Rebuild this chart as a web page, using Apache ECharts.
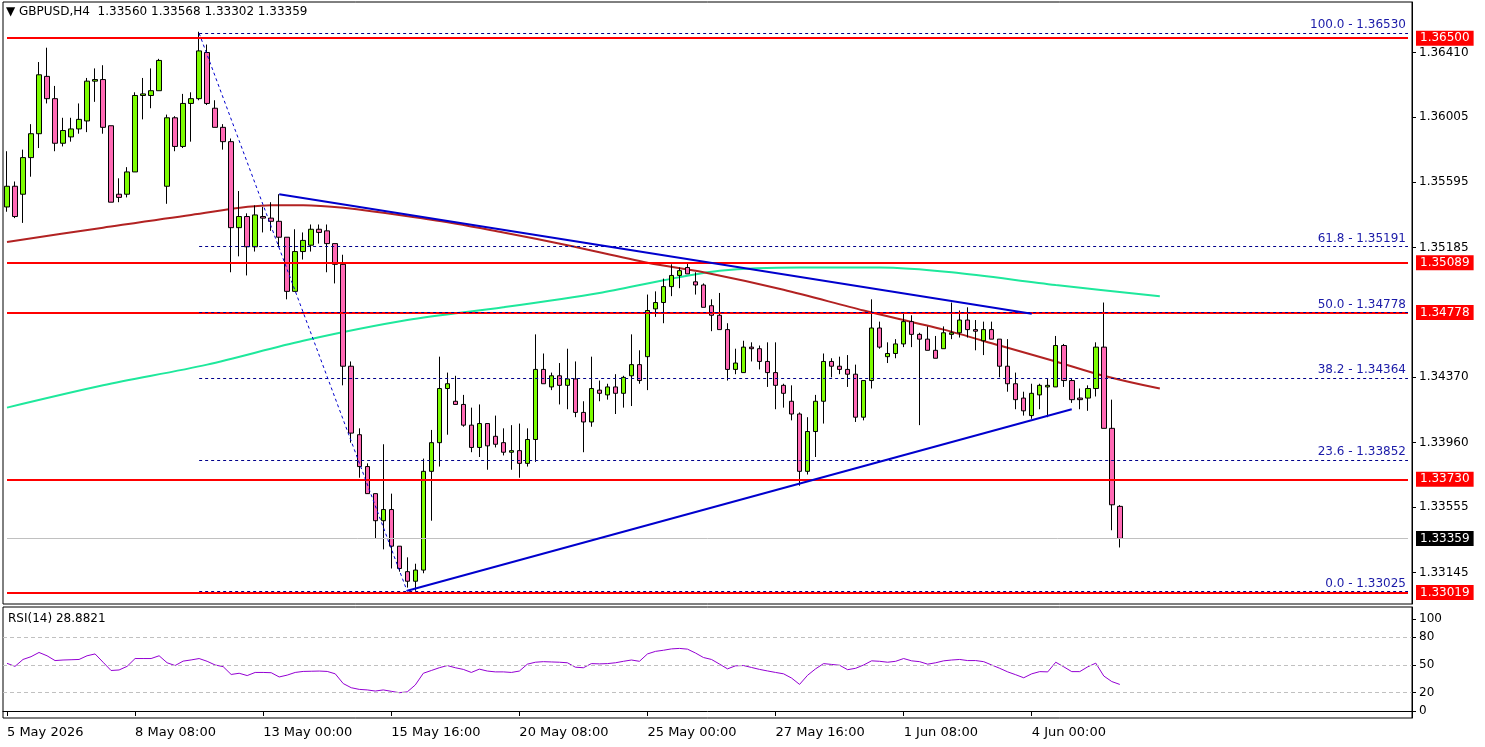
<!DOCTYPE html>
<html>
<head>
<meta charset="utf-8">
<script src="https://cdn.jsdelivr.net/npm/echarts@6/dist/echarts.min.js"></script>
<style>
html, body { margin: 0; padding: 0; background: #fff; }
#chart { width: 1485px; height: 747px; }
</style>
</head>
<body>
<div id="chart"></div>
<script>
// GBPUSD H4 candles: [open, close, low, high]
var candles = [
  [1.3544,1.3557,1.3541,1.3579],[1.3557,1.3538,1.3537,1.3560],[1.3552,1.3575,1.3534,1.3580],[1.3575,1.3590,1.3563,1.3596],
  [1.3590,1.3627,1.3581,1.3635],[1.3626,1.3612,1.3609,1.3644],[1.3612,1.3584,1.3579,1.3620],[1.3584,1.3592,1.3582,1.3600],
  [1.3588,1.3593,1.3585,1.3600],[1.3593,1.3599,1.3590,1.3609],[1.3598,1.3623,1.3591,1.3625],[1.3623,1.3624,1.3610,1.3631],
  [1.3624,1.3594,1.3590,1.3633],[1.3595,1.3547,1.3547,1.3595],[1.3552,1.3550,1.3547,1.3562],[1.3552,1.3566,1.3550,1.3569],
  [1.3566,1.3614,1.3566,1.3616],[1.3614,1.3615,1.3599,1.3625],[1.3614,1.3617,1.3606,1.3631],[1.3617,1.3636,1.3617,1.3637],
  [1.3557,1.3600,1.3546,1.3602],[1.3600,1.3582,1.3579,1.3601],[1.3582,1.3609,1.3581,1.3615],[1.3609,1.3612,1.3585,1.3616],
  [1.3612,1.3642,1.3611,1.3654],[1.3641,1.3609,1.3608,1.3646],[1.3606,1.3594,1.3594,1.3611],[1.3594,1.3585,1.3580,1.3596],
  [1.3585,1.3531,1.3503,1.3587],[1.3531,1.3538,1.3513,1.3554],[1.3538,1.3519,1.3501,1.3540],[1.3519,1.3539,1.3516,1.3545],
  [1.3538,1.3537,1.3528,1.3544],[1.3537,1.3535,1.3529,1.3547],[1.3535,1.3525,1.3519,1.3552],[1.3525,1.3491,1.3486,1.3525],
  [1.3491,1.3516,1.3491,1.3530],[1.3516,1.3523,1.3511,1.3528],[1.3520,1.3530,1.3516,1.3533],[1.3530,1.3528,1.3521,1.3533],
  [1.3529,1.3521,1.3503,1.3533],[1.3521,1.3508,1.3496,1.3521],[1.3508,1.3444,1.3432,1.3514],[1.3444,1.3402,1.3396,1.3447],
  [1.3401,1.3381,1.3374,1.3405],[1.3381,1.3364,1.3364,1.3383],[1.3364,1.3347,1.3336,1.3364],[1.3347,1.3354,1.3329,1.3395],
  [1.3354,1.3331,1.3317,1.3364],[1.3331,1.3317,1.3315,1.3331],[1.3315,1.3309,1.3305,1.3324],[1.3309,1.3316,1.3303,1.3320],
  [1.3316,1.3378,1.3314,1.3386],[1.3378,1.3396,1.3347,1.3404],[1.3396,1.3430,1.3381,1.3450],[1.3430,1.3433,1.3401,1.3440],
  [1.3422,1.3420,1.3420,1.3438],[1.3420,1.3407,1.3406,1.3426],[1.3407,1.3393,1.3390,1.3418],[1.3393,1.3408,1.3387,1.3420],
  [1.3408,1.3394,1.3379,1.3408],[1.3400,1.3395,1.3393,1.3413],[1.3396,1.3390,1.3388,1.3405],[1.3390,1.3391,1.3379,1.3407],
  [1.3391,1.3383,1.3374,1.3408],[1.3383,1.3398,1.3381,1.3405],[1.3398,1.3442,1.3384,1.3464],[1.3442,1.3433,1.3433,1.3452],
  [1.3431,1.3438,1.3429,1.3440],[1.3438,1.3432,1.3420,1.3446],[1.3432,1.3436,1.3417,1.3455],[1.3436,1.3415,1.3412,1.3447],
  [1.3415,1.3409,1.3390,1.3422],[1.3409,1.3430,1.3406,1.3450],[1.3429,1.3427,1.3422,1.3435],[1.3426,1.3431,1.3423,1.3433],
  [1.3431,1.3427,1.3414,1.3439],[1.3427,1.3437,1.3418,1.3438],[1.3438,1.3445,1.3419,1.3464],[1.3445,1.3435,1.3433,1.3454],
  [1.3450,1.3479,1.3429,1.3489],[1.3480,1.3484,1.3475,1.3491],[1.3484,1.3494,1.3471,1.3499],[1.3494,1.3501,1.3488,1.3508],
  [1.3501,1.3504,1.3493,1.3506],[1.3506,1.3502,1.3502,1.3509],[1.3497,1.3495,1.3489,1.3503],[1.3495,1.3481,1.3481,1.3496],
  [1.3482,1.3476,1.3466,1.3486],[1.3476,1.3467,1.3467,1.3490],[1.3467,1.3442,1.3435,1.3471],[1.3442,1.3446,1.3439,1.3455],
  [1.3440,1.3456,1.3440,1.3460],[1.3456,1.3455,1.3447,1.3459],[1.3455,1.3447,1.3442,1.3457],[1.3447,1.3440,1.3431,1.3459],
  [1.3440,1.3432,1.3417,1.3459],[1.3432,1.3427,1.3418,1.3433],[1.3422,1.3414,1.3410,1.3432],[1.3414,1.3378,1.3369,1.3415],
  [1.3378,1.3403,1.3376,1.3412],[1.3403,1.3422,1.3387,1.3426],[1.3422,1.3447,1.3408,1.3452],[1.3447,1.3444,1.3437,1.3449],
  [1.3444,1.3442,1.3439,1.3450],[1.3442,1.3439,1.3431,1.3451],[1.3439,1.3412,1.3409,1.3445],[1.3412,1.3435,1.3410,1.3435],
  [1.3435,1.3468,1.3430,1.3486],[1.3468,1.3456,1.3455,1.3472],[1.3450,1.3452,1.3446,1.3459],[1.3452,1.3458,1.3449,1.3461],
  [1.3458,1.3472,1.3456,1.3477],[1.3472,1.3464,1.3456,1.3476],[1.3464,1.3461,1.3407,1.3465],[1.3461,1.3454,1.3454,1.3469],
  [1.3454,1.3449,1.3449,1.3463],[1.3455,1.3465,1.3455,1.3469],[1.3464,1.3465,1.3461,1.3484],[1.3465,1.3473,1.3462,1.3479],
  [1.3473,1.3467,1.3462,1.3481],[1.3467,1.3466,1.3454,1.3473],[1.3460,1.3467,1.3451,1.3472],[1.3467,1.3461,1.3461,1.3472],
  [1.3461,1.3444,1.3437,1.3461],[1.3444,1.3433,1.3428,1.3461],[1.3433,1.3423,1.3417,1.3440],[1.3424,1.3416,1.3413,1.3428],
  [1.3413,1.3427,1.3411,1.3433],[1.3426,1.3432,1.3417,1.3433],[1.3431,1.3432,1.3412,1.3436],[1.3431,1.3457,1.3431,1.3463],
  [1.3457,1.3435,1.3431,1.3458],[1.3435,1.3423,1.3421,1.3436],[1.3424,1.3423,1.3417,1.3430],[1.3424,1.3430,1.3416,1.3432],
  [1.3430,1.3456,1.3425,1.3459],[1.3456,1.3405,1.3405,1.3484],[1.3405,1.3357,1.3341,1.3423],[1.3356,1.33359,1.33302,1.33568]
];

var rsiValues = [
  51.8,48.5,56,59,63.6,60,54.8,55.4,55.7,56,60,62,53,44,44.6,48.5,57,57,57,60,
  52.4,49.4,54.2,55.5,57,54,50,48.2,39.7,41,38.5,41.9,41.9,41.6,37,39,41.9,43,43.2,43.4,
  43,40.4,29.8,25.3,23.5,22.9,21.7,22.9,21.4,19.9,20.8,28.3,41,44,47,49.4,47,45.2,41.9,45.5,
  43.4,42.5,42.5,41.9,43.4,50.9,53,53.6,53.3,53,52.4,47.6,47,51.5,51.2,51.5,52.4,54,55.4,54,
  62,64.8,66,67.5,68,67.2,63,58.1,56,51,45.8,49.1,49.4,47.3,45.2,43.5,41.9,40.4,35.8,28.9,
  38.8,45.8,51.5,50.6,49.7,44.9,46.4,50,54.5,54,53,54,57,54.5,53.6,50.9,52.4,54.5,55.4,56,
  54.8,54.8,53.6,50,46.4,42.5,39.4,36.1,40.4,42.8,42.5,53,48,42.8,42.8,48,52,38,32,28.88
];

// moving averages, sampled [barIndex, value]
var maRed = [[0,1.3522],[12,1.3531],[23,1.3539],[33,1.3545],[37,1.3545],[53,1.3536],[62,1.3528],[70,1.3520],
  [80,1.3509],[87,1.3503],[97,1.3492],[107,1.3479],[117,1.3467],[124,1.3457],[131,1.3447],[137,1.3438],[144,1.3430]];
var maGreen = [[0,1.3418],[12,1.3432],[25,1.3445],[37,1.3460],[50,1.3473],[62,1.3481],[74,1.3490],[82,1.3498],
  [89,1.3504],[99,1.3506],[109,1.3506],[118,1.3503],[131,1.3495],[144,1.3488]];

var redLevels = [1.36500, 1.35089, 1.34778, 1.33730, 1.33019];
var fibLevels = [[100.0,1.36530],[61.8,1.35191],[50.0,1.34778],[38.2,1.34364],[23.6,1.33852],[0.0,1.33025]];
var priceTicks = [1.36410, 1.36005, 1.35595, 1.35185, 1.34370, 1.33960, 1.33555, 1.33145];
var rsiTicks = [0, 20, 50, 80, 100];
var lastPrice = 1.33359;
var dateLabels = ['5 May 2026','8 May 08:00','13 May 00:00','15 May 16:00','20 May 08:00',
  '25 May 00:00','27 May 16:00','1 Jun 08:00','4 Jun 00:00'];

var slots = 176;
var categories = [];
for (var i = 0; i < slots; i++) {
  categories.push(i % 16 === 0 && dateLabels[i / 16] ? dateLabels[i / 16] : '');
}
function toLine(pts) {
  var arr = [];
  for (var i = 0; i < slots; i++) arr.push(null);
  pts.forEach(function (p) { arr[p[0]] = p[1]; });
  return arr;
}

var font = 'DejaVu Sans';
function boxLabel(v, bg) {
  return { show: true, position: 'end', formatter: v.toFixed(5), color: '#fff', backgroundColor: bg,
    padding: [2, 4, 1, 4], fontFamily: font, fontSize: 12, distance: 8 };
}

var drawLines = [];
drawLines.push([{ coord: [0, lastPrice], lineStyle: { color: '#c0c0c0', width: 1, type: 'solid' }, label: boxLabel(lastPrice, '#000') },
  { coord: [slots - 1, lastPrice] }]);
redLevels.forEach(function (v) {
  drawLines.push([{ coord: [0, v], lineStyle: { color: '#ff0000', width: 2, type: 'solid' }, label: boxLabel(v, '#ff0000') },
    { coord: [slots - 1, v] }]);
});
fibLevels.forEach(function (f) {
  drawLines.push([
    { coord: [24, f[1]], lineStyle: { color: '#00008b', width: 1, type: [3, 3] },
      label: { show: true, position: 'insideEndTop', formatter: f[0].toFixed(1) + ' - ' + f[1].toFixed(5),
        color: '#1a1aa8', fontFamily: font, fontSize: 12, distance: 2 } },
    { coord: [slots - 1, f[1]] }
  ]);
});
// fib swing line and trendlines
drawLines.push([{ coord: [24, 1.3653], lineStyle: { color: '#0000cd', width: 1, type: [3, 3] }, label: { show: false } }, { coord: [50, 1.33025] }]);
drawLines.push([{ coord: [34, 1.3552], lineStyle: { color: '#0000cd', width: 2, type: 'solid' }, label: { show: false } }, { coord: [128, 1.3477] }]);
drawLines.push([{ coord: [50, 1.3303], lineStyle: { color: '#0000cd', width: 2, type: 'solid' }, label: { show: false } }, { coord: [133, 1.3417] }]);

var chart = echarts.init(document.getElementById('chart'));
chart.setOption({
  animation: false,
  backgroundColor: '#fff',
  textStyle: { fontFamily: font },
  grid: [
    { left: 3, right: 73, top: 2, height: 602, show: true, borderColor: '#000', borderWidth: 1 },
    { left: 3, right: 73, top: 607, height: 111, show: true, borderColor: '#000', borderWidth: 1 }
  ],
  xAxis: [
    { type: 'category', gridIndex: 0, data: categories, boundaryGap: true,
      axisLine: { show: false }, axisTick: { show: false }, axisLabel: { show: false }, splitLine: { show: false } },
    { type: 'category', gridIndex: 1, data: categories, boundaryGap: true,
      axisLine: { lineStyle: { color: '#000' } },
      axisTick: { show: true, length: 5, alignWithLabel: true, lineStyle: { color: '#000' },
        interval: function (i, v) { return v !== ''; } },
      axisLabel: { interval: function (i, v) { return v !== ''; }, align: 'left', margin: 8,
        color: '#000', fontFamily: font, fontSize: 13 } }
  ],
  yAxis: [
    { type: 'value', gridIndex: 0, position: 'right', min: 1.32947, max: 1.36727, scale: true,
      splitLine: { show: false }, axisLine: { show: true, lineStyle: { color: '#000' } },
      axisTick: { show: true, length: 4, customValues: priceTicks, lineStyle: { color: '#000' } },
      axisLabel: { customValues: priceTicks, formatter: function (v) { return v.toFixed(5); },
        color: '#000', fontFamily: font, fontSize: 12, margin: 7 } },
    { type: 'value', gridIndex: 1, position: 'right', min: -7.6, max: 113,
      splitLine: { show: false }, axisLine: { show: true, lineStyle: { color: '#000' } },
      axisTick: { show: true, length: 4, customValues: rsiTicks, lineStyle: { color: '#000' } },
      axisLabel: { customValues: rsiTicks, color: '#000', fontFamily: font, fontSize: 12, margin: 7 } }
  ],
  series: [
    { type: 'line', xAxisIndex: 0, yAxisIndex: 0, data: toLine(maGreen), connectNulls: true, showSymbol: false,
      smooth: 0.3, lineStyle: { color: '#1ee89c', width: 2 }, z: 2 },
    { type: 'line', xAxisIndex: 0, yAxisIndex: 0, data: toLine(maRed), connectNulls: true, showSymbol: false,
      smooth: 0.3, lineStyle: { color: '#b22222', width: 2 }, z: 2 },
    { type: 'candlestick', xAxisIndex: 0, yAxisIndex: 0, data: candles, barWidth: 5, z: 3,
      itemStyle: { color: '#7cfc00', color0: '#ff69b4', borderColor: '#000', borderColor0: '#000', borderWidth: 1 },
      markLine: { symbol: ['none', 'none'], silent: true, animation: false, data: drawLines } },
    { type: 'line', xAxisIndex: 1, yAxisIndex: 1, data: rsiValues, showSymbol: false,
      lineStyle: { color: '#9400d3', width: 1 },
      markLine: { symbol: ['none', 'none'], silent: true, label: { show: false },
        lineStyle: { color: '#c0c0c0', type: [4, 3], width: 1 },
        data: [{ yAxis: 20 }, { yAxis: 50 }, { yAxis: 80 }] } }
  ],
  graphic: [
    { type: 'text', left: 6, top: 6, style: { text: '\u25BC GBPUSD,H4  1.33560 1.33568 1.33302 1.33359',
      fill: '#000', font: '12px "DejaVu Sans"' } },
    { type: 'text', left: 8, top: 613, style: { text: 'RSI(14) 28.8821', fill: '#000', font: '12px "DejaVu Sans"' } }
  ]
});
</script>
</body>
</html>
